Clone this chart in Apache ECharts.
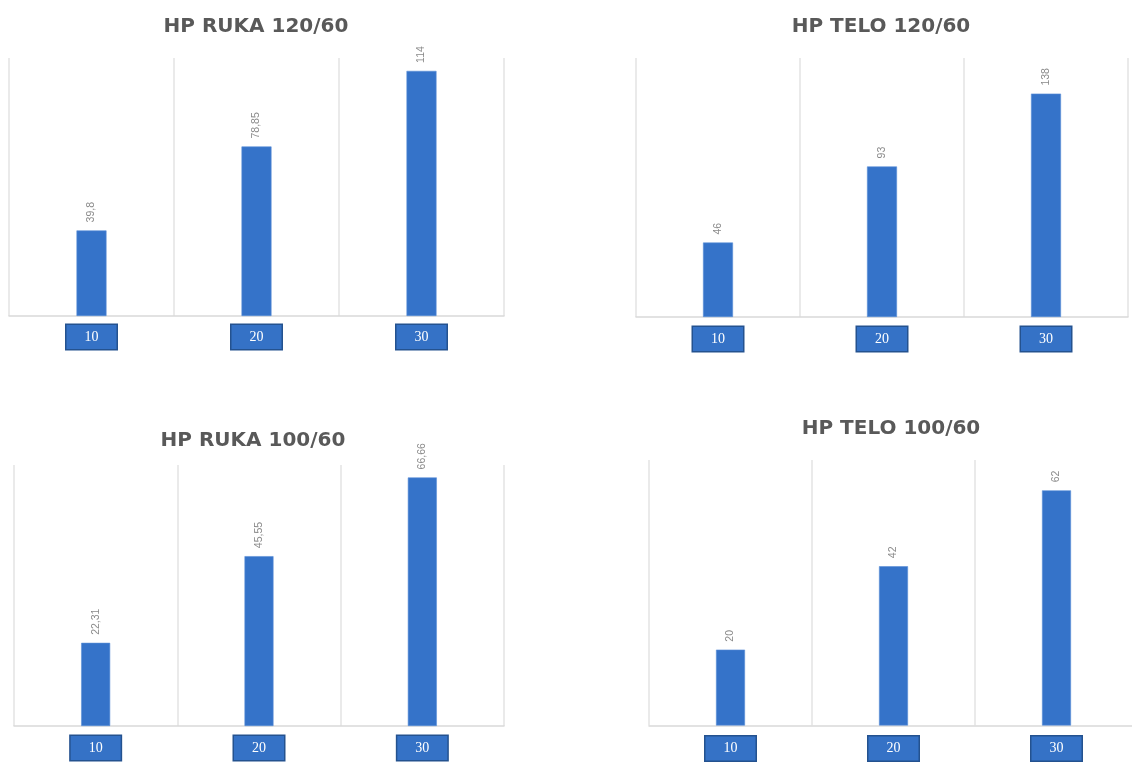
<!DOCTYPE html>
<html>
<head>
<meta charset="utf-8">
<script src="https://cdn.jsdelivr.net/npm/echarts@6/dist/echarts.min.js"></script>
<style>html,body{margin:0;padding:0;background:#fff;overflow:hidden;width:1132px;height:762px;}#c{width:1144px;height:762px;}</style>
</head>
<body>
<div id="c"></div>
<script>
const categories = ['10', '20', '30'];
const titles = ['HP RUKA 120/60', 'HP TELO 120/60', 'HP RUKA 100/60', 'HP TELO 100/60'];
const rukaHigh = [39.8, 78.85, 114];
const teloHigh = [46, 93, 138];
const rukaLow = [22.31, 45.55, 66.66];
const teloLow = [20, 42, 62];
const seriesData = [rukaHigh, teloHigh, rukaLow, teloLow];
const yMax = [120, 160, 70, 70];

const grids = [
  {left: 9, width: 495, top: 58, bottom: 446},
  {left: 636, width: 492, top: 58, bottom: 445},
  {left: 14, width: 490, top: 465, bottom: 36},
  {left: 649, width: 489, top: 460, bottom: 30}
];
const titlePos = [
  {left: 256, top: 17}, {left: 881, top: 17}, {left: 253, top: 431}, {left: 891, top: 419}
];
const labelMargins = [9, 10, 10, 11];
const barW = [30, 30, 29, 29];

const option = {
  backgroundColor: '#ffffff',
  animation: false,
  title: titles.map((t, i) => ({
    text: t, left: titlePos[i].left, top: titlePos[i].top, textAlign: 'center', padding: 0,
    textStyle: {fontFamily: 'DejaVu Sans', fontWeight: 'bold', fontSize: 20, color: '#595959'}
  })),
  grid: grids,
  xAxis: grids.map((g, i) => ({
    type: 'category', gridIndex: i, data: categories,
    axisLine: {show: true, lineStyle: {color: '#d9d9d9', width: 1.5}},
    axisTick: {show: false},
    splitLine: {show: true, lineStyle: {color: '#e3e3e3', width: 1.5}},
    axisLabel: {
      margin: labelMargins[i], color: '#ffffff', fontFamily: 'Liberation Serif', fontSize: 14,
      backgroundColor: '#3572C6', borderColor: '#24528f', borderWidth: 1.5,
      padding: [5, 18, 5, 18], lineHeight: 14
    }
  })),
  yAxis: grids.map((g, i) => ({
    type: 'value', gridIndex: i, min: 0, max: yMax[i], show: false,
    splitLine: {show: false}
  })),
  series: seriesData.map((d, i) => ({
    type: 'bar', xAxisIndex: i, yAxisIndex: i, data: d, barWidth: barW[i],
    itemStyle: {color: '#3573C9', borderColor: '#5b8fd6', borderWidth: 0.6},
    label: {
      show: true, position: 'top', rotate: 90, distance: 8,
      align: 'left', verticalAlign: 'middle',
      color: '#8a8a8a', fontSize: 10.5, fontFamily: 'Liberation Sans',
      formatter: p => String(p.value).replace('.', ',')
    }
  }))
};
const chart = echarts.init(document.getElementById('c'));
chart.setOption(option);
</script>
</body>
</html>
